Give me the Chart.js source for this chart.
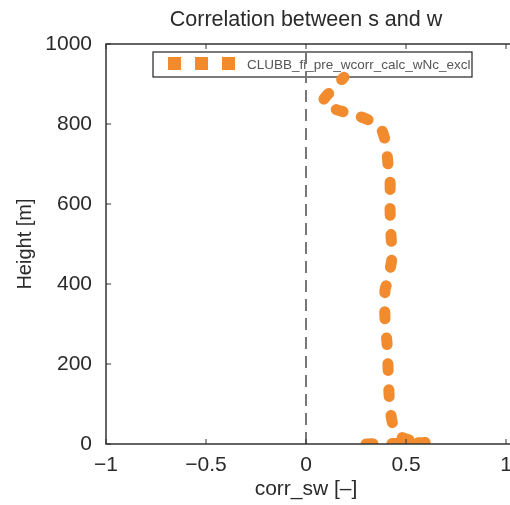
<!DOCTYPE html>
<html>
<head>
<meta charset="utf-8">
<script src="https://cdn.jsdelivr.net/npm/chart.js@4.4.1/dist/chart.umd.min.js"></script>
<style>
html,body{margin:0;padding:0;background:#fff;}
#wrap{width:510px;height:505px;position:relative;}
</style>
</head>
<body>
<div id="wrap"><canvas id="c" width="510" height="505"></canvas></div>
<script>
// ---- data ----
const chartTitle = 'Correlation between s and w';
const xLabel = 'corr_sw [–]';
const yLabel = 'Height [m]';
const seriesName = 'CLUBB_fi_pre_wcorr_calc_wNc_excl';
const heights = [0, 4, 10, 22, 47, 90, 127, 192, 252, 310, 385, 402, 467, 522, 593, 665, 700, 727, 760, 788, 806, 822, 838, 855, 880, 917];
const corrSw  = [0.30, 0.60, 0.52, 0.46, 0.435, 0.42, 0.415, 0.41, 0.405, 0.395, 0.395, 0.405, 0.43, 0.425, 0.42, 0.42, 0.41, 0.405, 0.395, 0.375, 0.33, 0.25, 0.14, 0.085, 0.12, 0.19];
const zeroLineHeights = [0, 1000];
const zeroLineX = [0, 0];
const xTicks = [-1, -0.5, 0, 0.5, 1];
const xTickLabels = ['−1', '−0.5', '0', '0.5', '1'];
const yTicks = [0, 200, 400, 600, 800, 1000];
const yTickLabels = ['0', '200', '400', '600', '800', '1000'];

const FONT = 'Liberation Sans, Arial, Helvetica, sans-serif';
const ORANGE = '#f28a2e';
const TXT = '#2a2a2a';

const mainPts = heights.map((h, i) => ({x: corrSw[i], y: h}));
const zeroPts = zeroLineHeights.map((h, i) => ({x: zeroLineX[i], y: h}));

const framePlugin = {
  id: 'frame',
  beforeDatasetsDraw(chart) {
    const {ctx} = chart;
    ctx.save();
    // legend box (drawn under data lines)
    const lx0 = 153, ly0 = 52, lx1 = 472, ly1 = 77;
    ctx.fillStyle = '#fff';
    ctx.fillRect(lx0, ly0, lx1 - lx0, ly1 - ly0);
    ctx.strokeStyle = '#222';
    ctx.lineWidth = 1.2;
    ctx.strokeRect(lx0, ly0, lx1 - lx0, ly1 - ly0);
    ctx.fillStyle = ORANGE;
    for (let k = 0; k < 3; k++) {
      ctx.fillRect(168 + k * 27, 57, 13, 13);
    }
    ctx.beginPath();
    ctx.rect(lx0, ly0, lx1 - lx0 - 1, ly1 - ly0);
    ctx.clip();
    ctx.fillStyle = '#555';
    ctx.font = '13.5px ' + FONT;
    ctx.textBaseline = 'middle';
    ctx.textAlign = 'left';
    ctx.fillText(seriesName, 247, 65);
    ctx.restore();
  },
  afterDraw(chart) {
    const {ctx, chartArea: a, scales} = chart;
    ctx.save();
    ctx.strokeStyle = '#333';
    ctx.lineWidth = 1.5;
    ctx.beginPath();
    ctx.moveTo(a.right + 4, a.top); ctx.lineTo(a.left, a.top);
    ctx.lineTo(a.left, a.bottom); ctx.lineTo(a.right + 4, a.bottom);
    ctx.stroke();
    ctx.lineWidth = 1;
    // inward ticks
    xTicks.forEach(v => {
      const px = scales.x.getPixelForValue(v);
      ctx.beginPath();
      ctx.moveTo(px, a.bottom); ctx.lineTo(px, a.bottom - 5);
      ctx.moveTo(px, a.top); ctx.lineTo(px, a.top + 5);
      ctx.stroke();
    });
    yTicks.forEach(v => {
      const py = scales.y.getPixelForValue(v);
      ctx.beginPath();
      ctx.moveTo(a.left, py); ctx.lineTo(a.left + 5, py);
      ctx.stroke();
    });
    // title
    ctx.fillStyle = TXT;
    ctx.font = '21.5px ' + FONT;
    ctx.textAlign = 'center';
    ctx.textBaseline = 'middle';
    ctx.fillText(chartTitle, (a.left + a.right) / 2, 20);
    ctx.restore();
  }
};

new Chart(document.getElementById('c'), {
  type: 'line',
  data: {
    datasets: [
      {
        label: 'zero',
        data: zeroPts,
        borderColor: '#777',
        borderWidth: 2,
        borderDash: [12, 7],
        pointRadius: 0,
        fill: false,
        order: 0
      },
      {
        label: seriesName,
        data: mainPts,
        borderColor: ORANGE,
        borderWidth: 11,
        borderDash: [7, 19],
        borderCapStyle: 'round',
        borderJoinStyle: 'round',
        pointRadius: 0,
        tension: 0.3,
        fill: false,
        order: 1
      }
    ]
  },
  options: {
    responsive: false,
    animation: false,
    layout: {padding: {left: 0, right: 4, top: 44, bottom: 0}},
    plugins: {legend: {display: false}, tooltip: {enabled: false}, title: {display: false}},
    scales: {
      x: {
        type: 'linear', min: -1, max: 1,
        afterBuildTicks: s => { s.ticks = xTicks.map(v => ({value: v})); },
        afterFit: s => { s.height = 61; s.paddingLeft = 0; s.paddingRight = 0; },
        grid: {display: false, drawTicks: false},
        border: {display: false},
        ticks: {
          font: {size: 21, family: FONT}, color: TXT, padding: 9,
          maxRotation: 0, autoSkip: false,
          callback: (v) => xTickLabels[xTicks.indexOf(v)]
        },
        title: {display: true, text: xLabel, font: {size: 21, family: FONT}, color: TXT, padding: {top: 0, bottom: 3}}
      },
      y: {
        type: 'linear', min: 0, max: 1000,
        afterBuildTicks: s => { s.ticks = yTicks.map(v => ({value: v})); },
        afterFit: s => { s.width = 106; s.paddingTop = 0; s.paddingBottom = 0; },
        grid: {display: false, drawTicks: false},
        border: {display: false},
        ticks: {
          font: {size: 21, family: FONT}, color: TXT, padding: 14,
          autoSkip: false,
          callback: (v) => yTickLabels[yTicks.indexOf(v)]
        },
        title: {display: true, text: yLabel, font: {size: 20, family: FONT}, color: TXT, padding: {top: 13, bottom: 0}}
      }
    }
  },
  plugins: [framePlugin]
});
</script>
</body>
</html>
